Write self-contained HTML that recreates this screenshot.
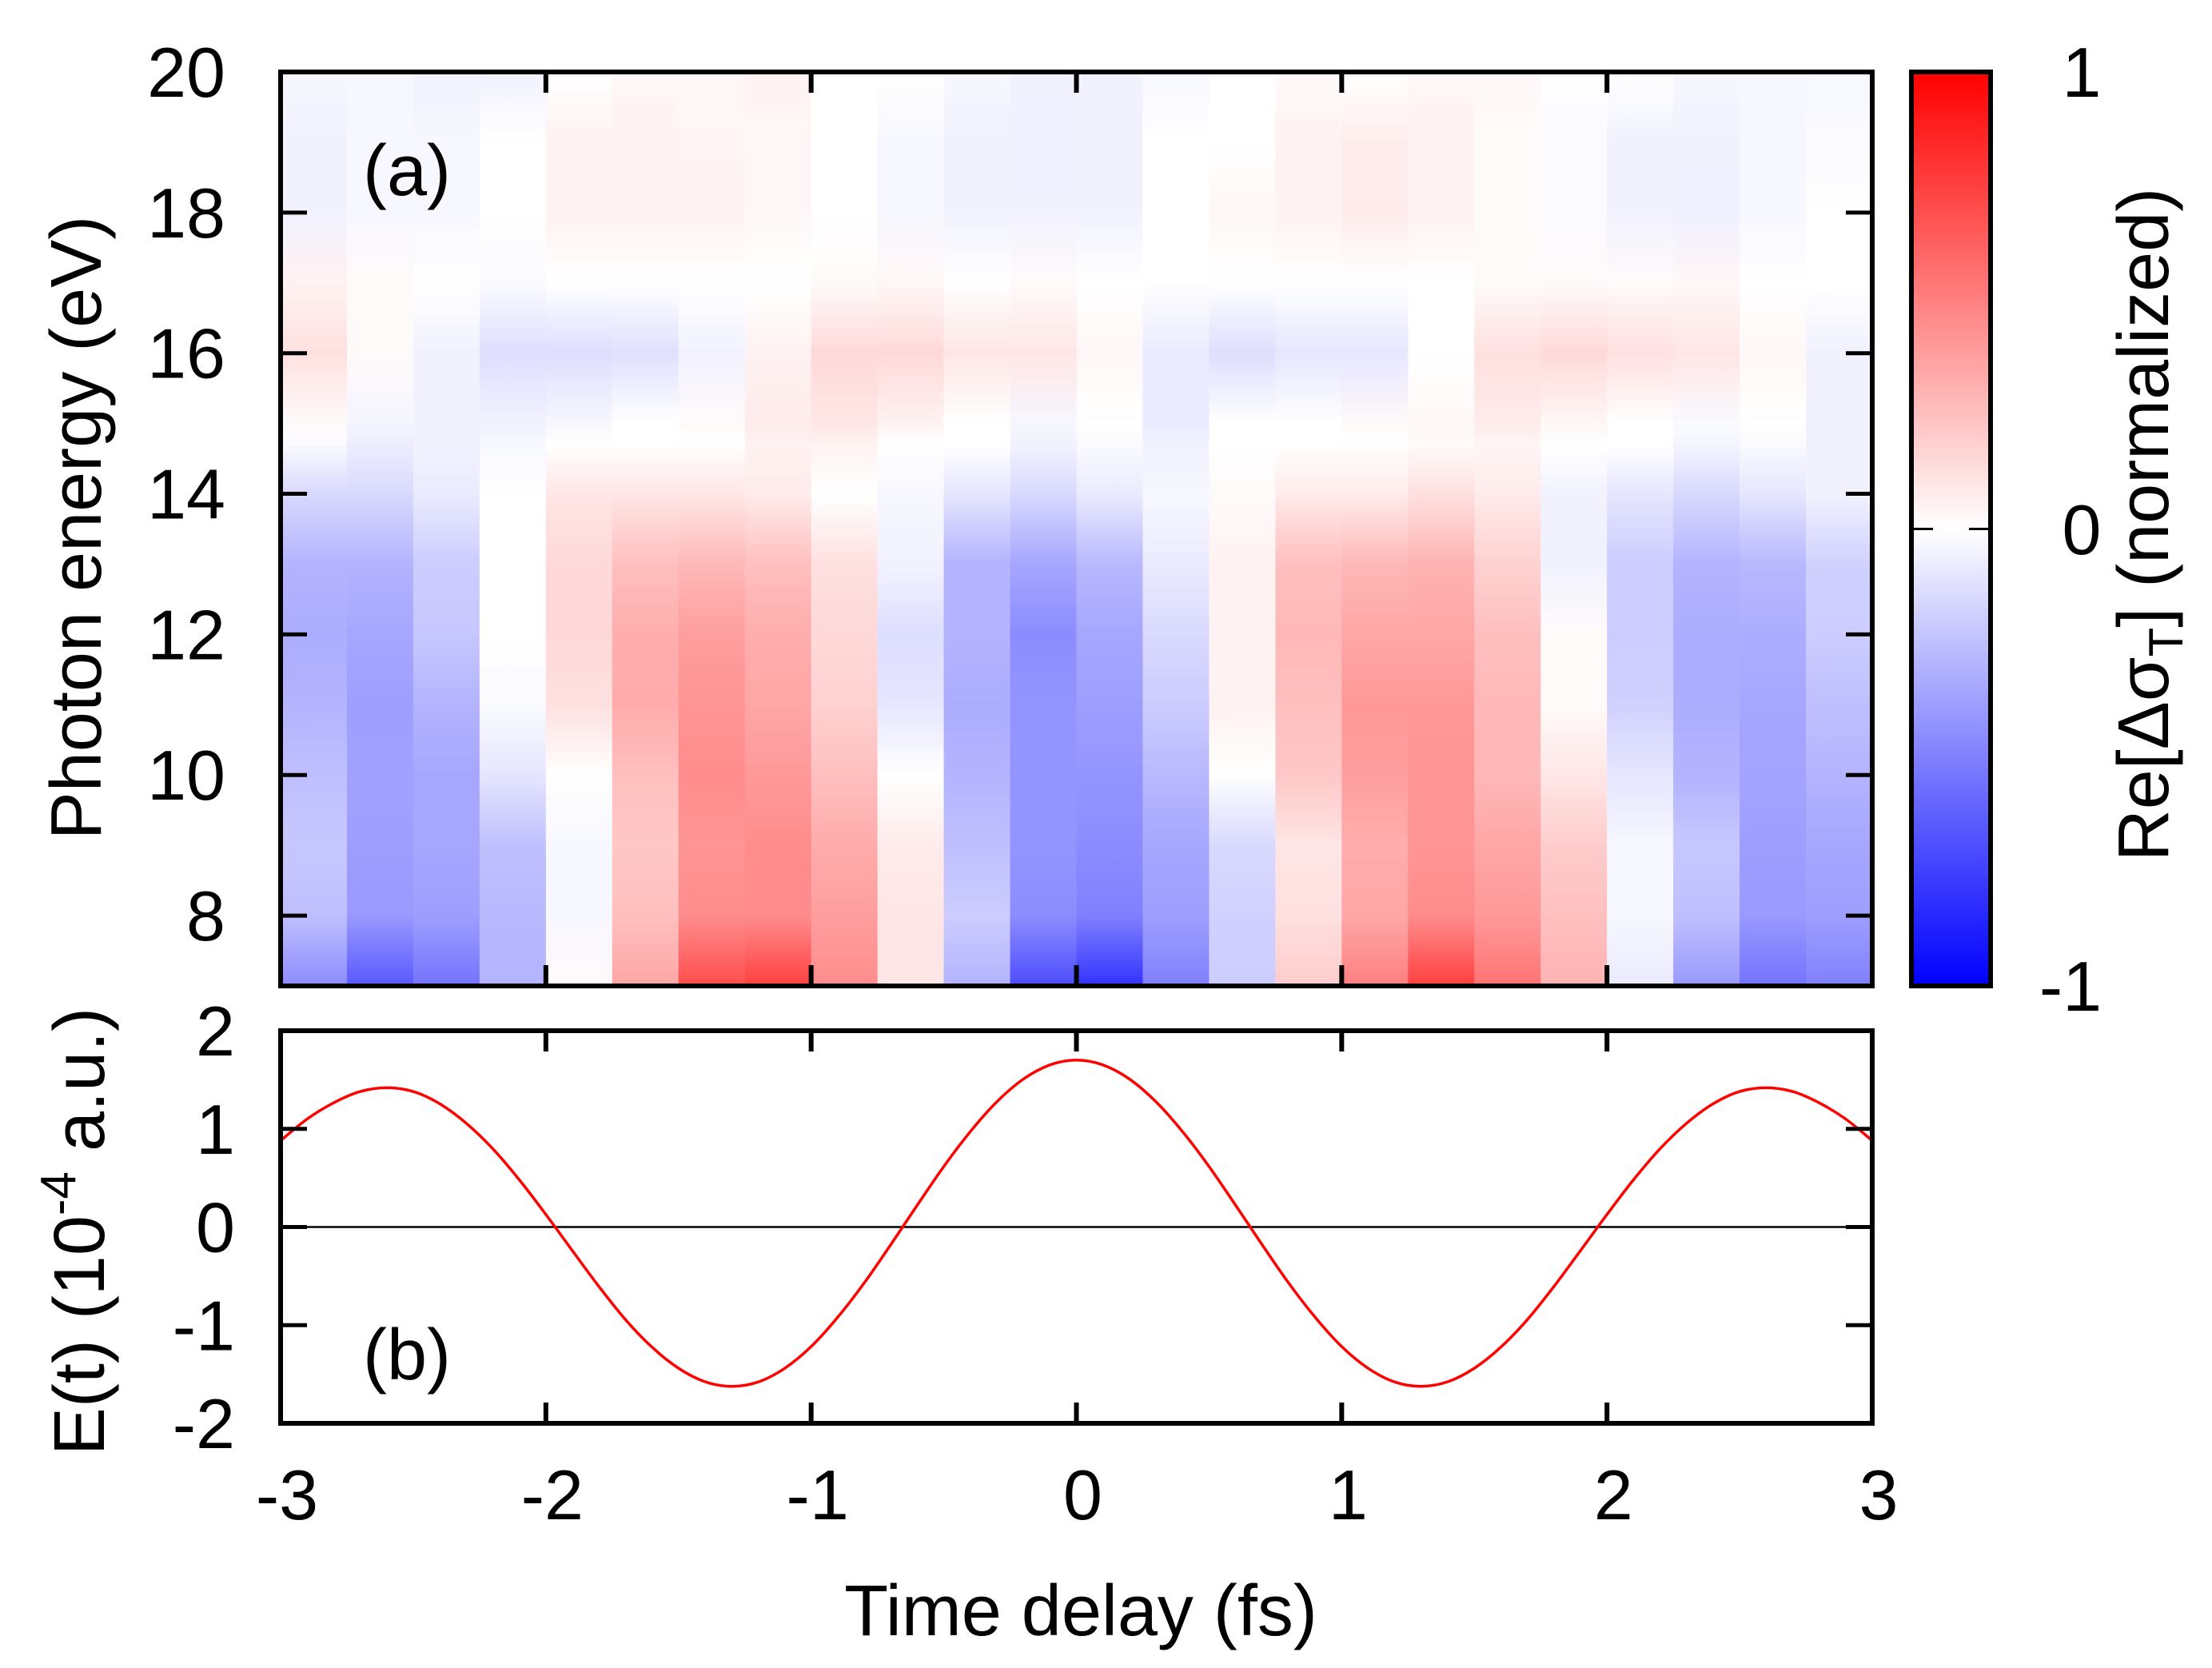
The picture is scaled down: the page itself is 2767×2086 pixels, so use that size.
<!DOCTYPE html>
<html><head><meta charset="utf-8"><style>
html,body{margin:0;padding:0;background:#fff;}
svg{display:block;font-family:"Liberation Sans",sans-serif;}
</style></head><body>
<svg id="chart" width="2767" height="2086" viewBox="0 0 2767 2086" xmlns="http://www.w3.org/2000/svg">
<defs id="defs"></defs>
<g id="heat"></g>
<g id="lower"></g>
<g id="axes"></g>
</svg>
<script>
// ---- data ----
const delays = [-3,-2.75,-2.5,-2.25,-2,-1.75,-1.5,-1.25,-1,-0.75,-0.5,-0.25,0,0.25,0.5,0.75,1,1.25,1.5,1.75,2,2.25,2.5,2.75];
const energies = [7,8,9,10,11,12,13,14,14.7,15,16,17,18,19,20];
const sigma = [
[-0.45,-0.25,-0.22,-0.25,-0.3,-0.32,-0.3,-0.15,-0.02,0.02,0.12,0.05,-0.05,-0.05,-0.03],
[-0.65,-0.4,-0.38,-0.37,-0.38,-0.35,-0.3,-0.15,-0.07,-0.04,0.02,0.02,-0.03,-0.03,-0.03],
[-0.55,-0.38,-0.35,-0.35,-0.3,-0.22,-0.2,-0.08,-0.05,-0.05,-0.05,0,-0.03,-0.03,-0.05],
[-0.3,-0.28,-0.25,-0.1,-0.02,0,0,0,-0.03,-0.05,-0.13,-0.02,0,0,-0.05],
[0.02,-0.03,-0.03,0,0.12,0.15,0.15,0.1,0,-0.03,-0.13,0,0.05,0.05,0],
[0.35,0.25,0.22,0.25,0.33,0.32,0.25,0.1,0,0,-0.12,0,0.05,0.05,0.03],
[0.7,0.45,0.42,0.45,0.42,0.38,0.28,0.1,0,0.02,-0.05,0,0.05,0.04,0.03],
[0.75,0.45,0.45,0.4,0.35,0.32,0.25,0.08,0.05,0.08,0.05,0,0.03,0.03,0.05],
[0.45,0.38,0.33,0.25,0.18,0.15,0.12,0,0.05,0.1,0.15,0.02,0,0,0],
[0.1,0.1,0.08,0,-0.1,-0.13,-0.05,-0.03,0,0.05,0.15,0.03,-0.03,-0.03,0],
[-0.3,-0.2,-0.25,-0.3,-0.32,-0.3,-0.3,-0.1,0,0,0.1,0,-0.05,-0.05,-0.03],
[-0.7,-0.45,-0.42,-0.42,-0.42,-0.45,-0.35,-0.15,-0.05,-0.03,0.1,0.02,-0.05,-0.06,-0.05],
[-0.8,-0.5,-0.45,-0.42,-0.38,-0.35,-0.28,-0.08,-0.02,0,0.03,0,-0.05,-0.05,-0.05],
[-0.5,-0.38,-0.35,-0.28,-0.2,-0.15,-0.08,-0.03,-0.05,-0.08,-0.08,0,0,0,-0.03],
[-0.2,-0.18,-0.15,0,0.05,0.05,0.05,0.02,0,0,-0.13,0,0.03,0,0],
[0.2,0.12,0.1,0.22,0.25,0.28,0.25,0.08,0,0,-0.1,0,0.05,0.05,0.02],
[0.5,0.35,0.32,0.38,0.4,0.35,0.28,0.08,0,0.02,-0.1,0,0.08,0.07,0],
[0.75,0.45,0.42,0.42,0.4,0.35,0.3,0.12,0.02,0.03,0,0,0.05,0.05,0.03],
[0.55,0.4,0.35,0.28,0.28,0.25,0.18,0.08,0.04,0.08,0.12,0.02,0.02,0.02,0.03],
[0.3,0.25,0.2,0.1,0.02,0.02,-0.05,-0.05,0,0.03,0.15,0.02,-0.02,-0.02,0],
[-0.08,-0.03,-0.03,-0.1,-0.18,-0.2,-0.2,-0.1,0,0,0.12,0.02,-0.05,-0.05,0],
[-0.4,-0.25,-0.22,-0.3,-0.32,-0.32,-0.3,-0.15,-0.04,-0.02,0.1,0.03,-0.06,-0.05,-0.03],
[-0.55,-0.4,-0.38,-0.36,-0.35,-0.32,-0.28,-0.1,-0.02,0,0.03,0,-0.03,-0.03,-0.03],
[-0.5,-0.38,-0.35,-0.3,-0.25,-0.2,-0.18,-0.05,-0.05,-0.05,-0.05,0,0,-0.02,-0.03]
];
const fieldTimes = [-3,-2.9,-2.8,-2.7,-2.6,-2.5,-2.4,-2.3,-2.2,-2.1,-2,-1.9,-1.8,-1.7,-1.6,-1.5,-1.4,-1.3,-1.2,-1.1,-1,-0.9,-0.8,-0.7,-0.6,-0.5,-0.4,-0.3,-0.2,-0.1,0,0.1,0.2,0.3,0.4,0.5,0.6,0.7,0.8,0.9,1,1.1,1.2,1.3,1.4,1.5,1.6,1.7,1.8,1.9,2,2.1,2.2,2.3,2.4,2.5,2.6,2.7,2.8,2.9,3];
const fieldValues = [0.88,1.10,1.265,1.38,1.418,1.38,1.255,1.057,0.797,0.481,0.128,-0.241,-0.606,-0.943,-1.224,-1.439,-1.576,-1.623,-1.579,-1.44,-1.218,-0.92,-0.57,-0.18,0.222,0.616,0.972,1.276,1.507,1.651,1.70,1.651,1.507,1.276,0.972,0.616,0.222,-0.18,-0.57,-0.92,-1.218,-1.44,-1.579,-1.623,-1.576,-1.439,-1.224,-0.943,-0.606,-0.241,0.128,0.481,0.797,1.057,1.255,1.38,1.418,1.38,1.265,1.10,0.88];
const xTicks = [-3,-2,-1,0,1,2,3];
const eTicks = [8,10,12,14,16,18,20];
const fTicks = [-2,-1,0,1,2];

// ---- geometry ----
const NS = "http://www.w3.org/2000/svg";
const X0 = 351, X1 = 2342;
const xS = t => X0 + (t + 3) / 6 * (X1 - X0);
const H0 = 90, H1 = 1233;
const yE = e => H1 - (e - 7) / 13 * (H1 - H0);
const L0 = 1289, L1 = 1780;
const yF = v => (L0 + L1) / 2 - v / 4 * (L1 - L0);
function color(v){
  v = Math.max(-1, Math.min(1, v));
  let r,g,b;
  if (v >= 0){ r=255; g=b=Math.round(255*(1-v)); }
  else { b=255; r=g=Math.round(255*(1+v)); }
  return `rgb(${r},${g},${b})`;
}
function mk(tag, attrs, parent){
  const el = document.createElementNS(NS, tag);
  for (const k in attrs) el.setAttribute(k, attrs[k]);
  parent.appendChild(el);
  return el;
}
const defs = document.getElementById('defs');
const heat = document.getElementById('heat');
const lower = document.getElementById('lower');
const axes = document.getElementById('axes');

// heatmap columns
delays.forEach((d, i) => {
  const gr = mk('linearGradient', {id:'g'+i, x1:0, y1:0, x2:0, y2:1}, defs);
  for (let j = energies.length - 1; j >= 0; j--){
    const off = (yE(energies[j]) - H0) / (H1 - H0);
    mk('stop', {offset: off, 'stop-color': color(sigma[i][j])}, gr);
  }
  const x = xS(d), w = xS(d + 0.25) - x;
  const r = mk('rect', {x: x, y: H0, width: w + 0.6, height: H1 - H0, fill: 'url(#g'+i+')'}, heat);
  
  
});

// colorbar
const cg = mk('linearGradient', {id:'cbar', x1:0, y1:0, x2:0, y2:1}, defs);
[1,0.5,0,-0.5,-1].forEach((v,k)=>mk('stop',{offset:k/4,'stop-color':color(v)},cg));
const cb = mk('rect', {x:2391, y:H0, width:99, height:H1-H0, fill:'url(#cbar)', stroke:'#000', 'stroke-width':6}, axes);


const cmid = (H0 + H1) / 2;
mk('line', {x1:2391, x2:2418, y1:cmid, y2:cmid, stroke:'#000', 'stroke-width':3}, axes);
mk('line', {x1:2463, x2:2490, y1:cmid, y2:cmid, stroke:'#000', 'stroke-width':3}, axes);

// lower plot
const zl = mk('line', {x1:X0, x2:X1, y1:yF(0), y2:yF(0), stroke:'#000', 'stroke-width':2.5}, lower);


const P = fieldTimes.map((t,i)=>[xS(t), yF(fieldValues[i])]);
let dstr = 'M' + P[0][0].toFixed(1) + ',' + P[0][1].toFixed(1);
for (let i = 0; i < P.length - 1; i++){
  const p0 = P[Math.max(0,i-1)], p1 = P[i], p2 = P[i+1], p3 = P[Math.min(P.length-1,i+2)];
  const c1x = p1[0] + (p2[0]-p0[0])/6, c1y = p1[1] + (p2[1]-p0[1])/6;
  const c2x = p2[0] - (p3[0]-p1[0])/6, c2y = p2[1] - (p3[1]-p1[1])/6;
  dstr += ` C${c1x.toFixed(1)},${c1y.toFixed(1)} ${c2x.toFixed(1)},${c2y.toFixed(1)} ${p2[0].toFixed(1)},${p2[1].toFixed(1)}`;
}
const pl = mk('path', {d: dstr, fill:'none', stroke:'#ff0000', 'stroke-width':3.5, 'stroke-linejoin':'round'}, lower);



// frames & ticks
function frame(y0, y1, yTicks, yMap, name){
  const f = mk('rect', {x:X0, y:y0, width:X1-X0, height:y1-y0, fill:'none', stroke:'#000', 'stroke-width':6}, axes);
  
  
  xTicks.forEach(t => {
    mk('line', {x1:xS(t), x2:xS(t), y1:y0, y2:y0+26, stroke:'#000', 'stroke-width':6}, axes);
    mk('line', {x1:xS(t), x2:xS(t), y1:y1, y2:y1-26, stroke:'#000', 'stroke-width':6}, axes);
  });
  yTicks.forEach(v => {
    const y = yMap(v);
    mk('line', {x1:X0, x2:X0+33, y1:y, y2:y, stroke:'#000', 'stroke-width':5}, axes);
    mk('line', {x1:X1, x2:X1-33, y1:y, y2:y, stroke:'#000', 'stroke-width':5}, axes);
  });
}
frame(H0, H1, eTicks, yE, 'heatmap-frame');
frame(L0, L1, fTicks, yF, 'field-frame');

function txt(s, attrs, name){
  const t = mk('text', Object.assign({'font-size':88, fill:'#000'}, attrs), axes);
  t.textContent = s;
  
  
  return t;
}
eTicks.forEach(v => txt(String(v), {x:282, y:yE(v)+31, 'text-anchor':'end'}, 'y-tick-label'));
fTicks.forEach(v => txt(String(v), {x:294, y:yF(v)+31, 'text-anchor':'end'}, 'field-tick-label'));
xTicks.forEach(v => txt(String(v), {x:xS(v)+8, y:1900, 'text-anchor':'middle'}, 'x-tick-label'));
txt('Time delay (fs)', {x:1352, y:2045, 'text-anchor':'middle', 'font-size':90}, 'x-axis-title');
txt('Photon energy (eV)', {x:0, y:0, 'text-anchor':'middle', 'font-size':90, transform:'translate(126,660) rotate(-90)'}, 'y-axis-title');
const ft = txt('E(t) (10', {x:0, y:0, 'text-anchor':'middle', 'font-size':90, transform:'translate(130,1540) rotate(-90)'}, 'field-axis-title');
const sup = mk('tspan', {'font-size':62, dy:-36}, ft); sup.textContent='-4';
const rest = mk('tspan', {dy:36}, ft); rest.textContent=' a.u.)';
txt('(a)', {x:509, y:244, 'text-anchor':'middle', 'font-size':90}, 'panel-label-a');
txt('(b)', {x:509, y:1725, 'text-anchor':'middle', 'font-size':90}, 'panel-label-b');
txt('1', {x:2604, y:121, 'text-anchor':'middle'}, 'colorbar-label-max');
txt('0', {x:2604, y:693, 'text-anchor':'middle'}, 'colorbar-label-zero');
txt('-1', {x:2590, y:1264, 'text-anchor':'middle'}, 'colorbar-label-min');
const ct = txt('Re[\u0394\u03C3', {x:0, y:0, 'text-anchor':'middle', 'font-size':90, transform:'translate(2712,656) rotate(-90)'}, 'colorbar-title');
const sub = mk('tspan', {'font-size':60, dy:18}, ct); sub.textContent='T';
const r2 = mk('tspan', {dy:-18}, ct); r2.textContent='] (normalized)';
</script>
</body></html>
